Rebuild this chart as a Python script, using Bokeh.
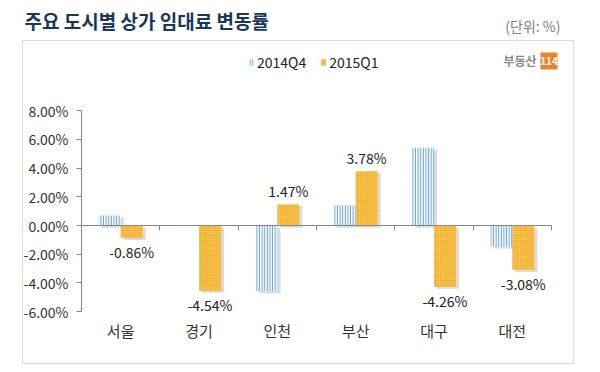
from bokeh.plotting import figure
from bokeh.models import (ColumnDataSource, FixedTicker, PrintfTickFormatter, Range1d,
                          LabelSet, Label, Legend, LegendItem, BoxAnnotation, LinearAxis)
from bokeh.core.properties import value
from bokeh.embed import file_html
from bokeh.resources import INLINE

cities = ["서울", "경기", "인천", "부산", "대구", "대전"]
q4_2014 = [0.70, -0.03, -4.58, 1.40, 5.42, -1.46]
q1_2015 = [-0.86, -4.54, 1.47, 3.78, -4.26, -3.08]
y_ticks = [-6, -4, -2, 0, 2, 4, 6, 8]
series_names = ["2014Q4", "2015Q1"]
title_text = "주요 도시별 상가 임대료 변동률"
unit_text = "(단위: %)"

FONT = "Noto Sans CJK KR"
AXIS_GRAY = "#868686"
BAR_W = 0.28
W, H = 600, 372
PX_X = 78.33   # pixels per category
PX_Y = 14.36   # pixels per percent point
X0_PX, Y0_PX = 81, 225  # canvas position of the data origin

centers = [i + 0.5 for i in range(len(cities))]
x_q4 = [c - BAR_W / 2 for c in centers]
x_q1 = [c + BAR_W / 2 for c in centers]

src = ColumnDataSource(dict(x4=x_q4, x1=x_q1, q4=q4_2014, q1=q1_2015,
                            lab=[f"{v:.2f}%" for v in q1_2015],
                            off=[13 if v >= 0 else -14 for v in q1_2015]))

p = figure(width=W, height=H, output_backend="svg", toolbar_location=None,
           x_range=Range1d(-X0_PX / PX_X, (W - X0_PX) / PX_X),
           y_range=Range1d(-(H - Y0_PX) / PX_Y, Y0_PX / PX_Y),
           min_border=0, min_border_left=0, min_border_right=0,
           min_border_top=0, min_border_bottom=0,
           x_axis_location=None, y_axis_location=None, title=None)
p.outline_line_color = None
p.xgrid.grid_line_color = None
p.ygrid.grid_line_color = None
p.background_fill_color = "white"
p.border_fill_color = "white"

# outer box
p.add_layout(BoxAnnotation(left=22, right=573, top=40, bottom=363,
                           left_units="canvas", right_units="canvas",
                           top_units="canvas", bottom_units="canvas",
                           fill_alpha=0, line_color="#8c8c8c", line_width=1))

# shadows
p.vbar(x=[x + 0.04 for x in x_q4], bottom=-0.15, top=[v - 0.15 for v in q4_2014], width=BAR_W,
       fill_color="#b0b0b0", fill_alpha=0.45, line_color=None)
p.vbar(x=[x + 0.04 for x in x_q1], bottom=-0.15, top=[v - 0.15 for v in q1_2015], width=BAR_W,
       fill_color="#b0b0b0", fill_alpha=0.45, line_color=None)

r4 = p.vbar(x="x4", bottom=0, top="q4", width=BAR_W, source=src,
            fill_color="white", hatch_pattern="vertical_line", hatch_color="#6aa3d8",
            hatch_scale=2.6, hatch_weight=1.5, line_color=None)
r1 = p.vbar(x="x1", bottom=0, top="q1", width=BAR_W, source=src,
            fill_color="#f2b12c", hatch_pattern="dot", hatch_color="#fde6a0",
            hatch_scale=2.5, hatch_weight=1, line_color=None)

# data labels for 2015Q1
p.add_layout(LabelSet(x="x1", y="q1", text="lab", y_offset="off", source=src,
                      text_align="center", text_baseline="middle",
                      text_font=value(FONT), text_font_size=value("14px"),
                      text_color=value("#222222")))

# y axis
yax = LinearAxis(fixed_location=0, ticker=FixedTicker(ticks=y_ticks),
                 bounds=(min(y_ticks), max(y_ticks)),
                 formatter=PrintfTickFormatter(format="%.2f%%"),
                 axis_line_color=AXIS_GRAY, major_tick_line_color=AXIS_GRAY,
                 major_tick_out=5, major_tick_in=0, minor_tick_line_color=None,
                 major_label_standoff=8, major_label_text_font=FONT,
                 major_label_text_font_size="14px", major_label_text_color="#333333")
p.add_layout(yax, "left")

# zero axis with category boundary ticks
bounds_x = list(range(len(cities) + 1))
zax = LinearAxis(fixed_location=0, ticker=FixedTicker(ticks=bounds_x),
                 bounds=(0, len(cities)),
                 major_label_overrides={b: "" for b in bounds_x},
                 axis_line_color=AXIS_GRAY, major_tick_line_color=AXIS_GRAY,
                 major_tick_out=5, major_tick_in=0, minor_tick_line_color=None,
                 major_label_text_font_size="1px")
p.add_layout(zax, "below")

# category labels
cax = LinearAxis(fixed_location=-6.05, ticker=FixedTicker(ticks=centers),
                 major_label_overrides={c: name for c, name in zip(centers, cities)},
                 axis_line_color=None, major_tick_line_color=None, minor_tick_line_color=None,
                 major_label_standoff=2, major_label_text_font=FONT,
                 major_label_text_font_size="15px", major_label_text_color="#333333")
p.add_layout(cax, "below")

# legend
legend = Legend(items=[LegendItem(label=series_names[0], renderers=[r4]),
                       LegendItem(label=series_names[1], renderers=[r1])],
                orientation="horizontal", location=(248, 300),
                glyph_width=6, glyph_height=8, label_standoff=3, spacing=14,
                padding=0, margin=0, border_line_color=None, background_fill_alpha=0,
                label_text_font=FONT, label_text_font_size="14px", label_text_color="#222222")
p.add_layout(legend)

# title and unit
p.add_layout(Label(x=24, y=20, x_units="canvas", y_units="canvas", text=title_text,
                   text_font=FONT, text_font_size="19px", text_font_style="bold",
                   text_color="#17375e", text_baseline="middle"))
p.add_layout(Label(x=560, y=25, x_units="canvas", y_units="canvas", text=unit_text,
                   text_font=FONT, text_font_size="14px", text_color="#7f7f7f",
                   text_baseline="middle", text_align="right"))

# logo
p.add_layout(Label(x=536, y=60, x_units="canvas", y_units="canvas", text="부동산",
                   text_font=FONT, text_font_size="12px", text_font_style="bold",
                   text_color="#8a8a8a", text_baseline="middle", text_align="right"))
p.add_layout(BoxAnnotation(left=540, right=557, top=52, bottom=69,
                           left_units="canvas", right_units="canvas",
                           top_units="canvas", bottom_units="canvas",
                           fill_color="#e8842a", fill_alpha=1, line_color=None))
p.add_layout(Label(x=548.5, y=60.5, x_units="canvas", y_units="canvas", text="114",
                   text_font=FONT, text_font_size="10px", text_font_style="bold",
                   text_color="white", text_baseline="middle", text_align="center"))

open("out.html", "w").write(file_html(p, INLINE))
